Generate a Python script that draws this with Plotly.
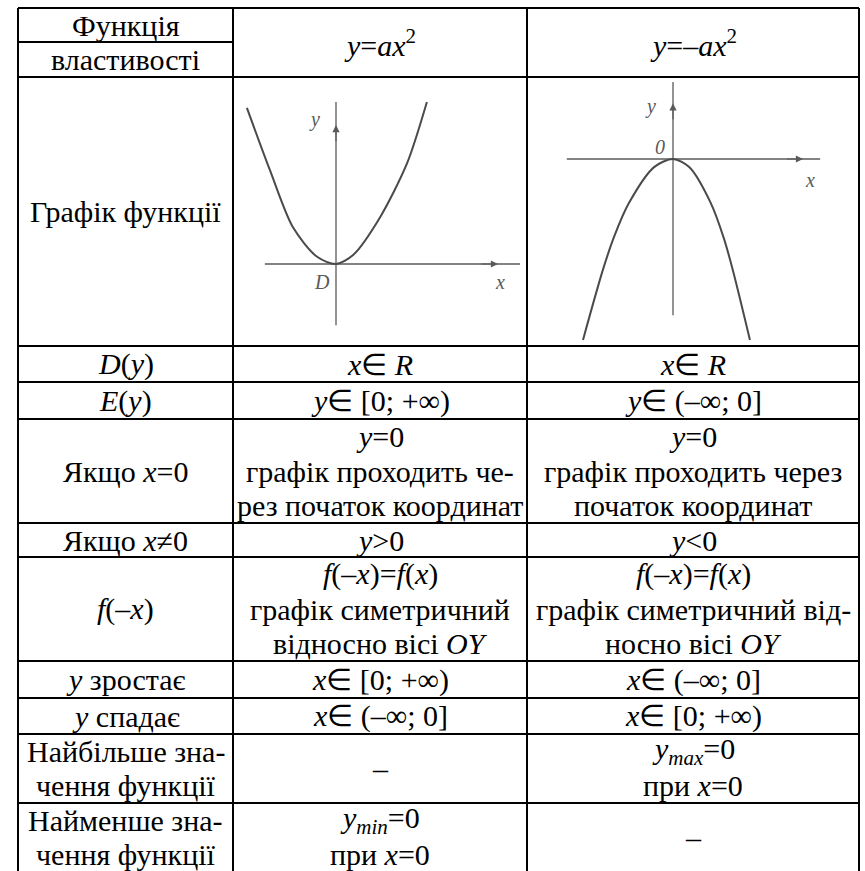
import plotly.graph_objects as go

W, H = 865, 871

# table grid (pixels)
col_edges = [18, 233, 527, 859]
row_edges = [8, 77, 346, 382, 419, 523, 557, 661, 698, 734, 803, 872]
header_split = 42

# cell texts, one list of lines per cell
header_col1 = ["Функція", "властивості"]
header_funcs = ["<i>y</i>=<i>ax</i><sup>2</sup>", "<i>y</i>=–<i>ax</i><sup>2</sup>"]

row_names = [
    ["Графік функції"],
    ["<i>D</i>(<i>y</i>)"],
    ["<i>E</i>(<i>y</i>)"],
    ["Якщо <i>x</i>=0"],
    ["Якщо <i>x</i>≠0"],
    ["<i>f</i>(–<i>x</i>)"],
    ["<i>y</i> зростає"],
    ["<i>y</i> спадає"],
    ["Найбільше зна-", "чення функції"],
    ["Найменше зна-", "чення функції"],
]
col_pos = [
    None,
    ["<i>x</i>∈ <i>R</i>"],
    ["<i>y</i>∈ [0; +∞)"],
    ["<i>y</i>=0", "графік проходить че-", "рез початок координат"],
    ["<i>y</i>>0"],
    ["<i>f</i>(–<i>x</i>)=<i>f</i>(<i>x</i>)", "графік симетричний", "відносно вісі <i>OY</i>"],
    ["<i>x</i>∈ [0; +∞)"],
    ["<i>x</i>∈ (–∞; 0]"],
    ["–"],
    ["<i>y<sub>min</sub></i>=0", "при <i>x</i>=0"],
]
col_neg = [
    None,
    ["<i>x</i>∈ <i>R</i>"],
    ["<i>y</i>∈ (–∞; 0]"],
    ["<i>y</i>=0", "графік проходить через", "початок координат"],
    ["<i>y</i><0"],
    ["<i>f</i>(–<i>x</i>)=<i>f</i>(<i>x</i>)", "графік симетричний від-", "носно вісі <i>OY</i>"],
    ["<i>x</i>∈ (–∞; 0]"],
    ["<i>x</i>∈ [0; +∞)"],
    ["<i>y<sub>max</sub></i>=0", "при <i>x</i>=0"],
    ["–"],
]

# parabola points
up_x = [-1.98, -1.47, -0.96, -0.42, 0, 0.38, 0.98, 1.58, 2.02]
up_y = [3.47, 2.09, 0.82, 0.16, 0, 0.2, 1.04, 2.24, 3.6]
down_x = [-2.0, -1.56, -1.31, -0.98, -0.42, 0, 0.36, 0.84, 1.12, 1.33, 1.71]
down_y = [-4.02, -2.47, -1.73, -0.98, -0.18, 0, -0.18, -0.98, -1.73, -2.47, -4.02]

# axis extents of the sketches
up_axis_x = [-1.58, 4.09]
up_axis_y = [-1.36, 3.6]
down_axis_x = [-2.36, 3.27]
down_axis_y = [-3.47, 1.71]

FONT = "Liberation Serif"
LH = 34.7
SCALE = 45.0
GRAY = "#5a5a5a"

fig = go.Figure()
fig.add_trace(go.Scatter(x=[0, W], y=[0, H], mode="markers",
                         marker=dict(opacity=0), hoverinfo="skip", showlegend=False))

# grid lines
line = dict(color="black", width=2)
for xv in col_edges:
    fig.add_shape(type="line", x0=xv, x1=xv, y0=row_edges[0], y1=row_edges[-1], line=line)
for yv in row_edges:
    fig.add_shape(type="line", x0=col_edges[0], x1=col_edges[-1], y0=yv, y1=yv, line=line)
fig.add_shape(type="line", x0=col_edges[0], x1=col_edges[1], y0=header_split, y1=header_split, line=line)


def put(text, x, y, size=30):
    fig.add_annotation(x=x, y=y, xref="x", yref="y", text=text, showarrow=False,
                       xanchor="center", yanchor="middle",
                       font=dict(family=FONT, size=size, color="black"))


def put_lines(lines, c, r):
    if not lines:
        return
    top, bot = row_edges[r], row_edges[r + 1]
    cx = (col_edges[c] + col_edges[c + 1]) / 2
    start = top + (bot - top - len(lines) * LH) / 2
    for i, t in enumerate(lines):
        put(t, cx, start + LH * (i + 0.5))


# header
put(header_col1[0], (col_edges[0] + col_edges[1]) / 2, (row_edges[0] + header_split) / 2)
put(header_col1[1], (col_edges[0] + col_edges[1]) / 2, (header_split + row_edges[1]) / 2)
for c, t in enumerate(header_funcs):
    put(t, (col_edges[c + 1] + col_edges[c + 2]) / 2, (row_edges[0] + row_edges[1]) / 2)

for r in range(len(row_names)):
    put_lines(row_names[r], 0, r + 1)
    put_lines(col_pos[r], 1, r + 1)
    put_lines(col_neg[r], 2, r + 1)


# sketch subplots: origin pixel positions inside the graph cells
def sketch_axes(c, ox, oy):
    x0, x1 = col_edges[c], col_edges[c + 1]
    y0, y1 = row_edges[1], row_edges[2]
    xr = [(x0 - ox) / SCALE, (x1 - ox) / SCALE]
    yr = [(oy - y1) / SCALE, (oy - y0) / SCALE]
    dom_x = [x0 / W, x1 / W]
    dom_y = [1 - y1 / H, 1 - y0 / H]
    return xr, yr, dom_x, dom_y


xr2, yr2, dx2, dy2 = sketch_axes(1, 336, 264)
xr3, yr3, dx3, dy3 = sketch_axes(2, 673, 159)

for ax, ay, cx, cy, axx, axy in [
    ("x2", "y2", up_x, up_y, up_axis_x, up_axis_y),
    ("x3", "y3", down_x, down_y, down_axis_x, down_axis_y),
]:
    fig.add_trace(go.Scatter(x=axx, y=[0, 0], xaxis=ax, yaxis=ay, mode="lines",
                             line=dict(color=GRAY, width=1.3), showlegend=False, hoverinfo="skip"))
    fig.add_trace(go.Scatter(x=[0, 0], y=axy, xaxis=ax, yaxis=ay, mode="lines",
                             line=dict(color=GRAY, width=1.3), showlegend=False, hoverinfo="skip"))
    fig.add_trace(go.Scatter(x=cx, y=cy, xaxis=ax, yaxis=ay, mode="lines",
                             line=dict(color="#4a4a4a", width=2, shape="spline", smoothing=0.8),
                             showlegend=False, hoverinfo="skip"))

# arrowheads
for ax, ay, x, y, tx, ty in [
    ("x2", "y2", 3.6, 0, 3.2, 0),
    ("x2", "y2", 0, 3.09, 0, 2.7),
    ("x3", "y3", 2.89, 0, 2.5, 0),
    ("x3", "y3", 0, 1.24, 0, 0.85),
]:
    fig.add_annotation(x=x, y=y, ax=tx, ay=ty, xref=ax, yref=ay, axref=ax, ayref=ay, text="",
                       showarrow=True, arrowhead=2, arrowsize=1.2, arrowwidth=1.2, arrowcolor=GRAY,
                       font=dict(family=FONT, size=10))

# sketch labels
for ax, ay, x, y, t in [
    ("x2", "y2", -0.47, 3.2, "y"), ("x2", "y2", -0.31, -0.4, "D"), ("x2", "y2", 3.64, -0.4, "x"),
    ("x3", "y3", -0.51, 1.16, "y"), ("x3", "y3", -0.29, 0.27, "0"), ("x3", "y3", 3.04, -0.47, "x"),
]:
    fig.add_annotation(x=x, y=y, xref=ax, yref=ay, text="<i>" + t + "</i>", showarrow=False,
                       font=dict(family=FONT, size=20, color=GRAY))

hidden = dict(visible=False, showgrid=False, zeroline=False, fixedrange=True)
fig.update_layout(
    width=W, height=H, margin=dict(l=0, r=0, t=0, b=0),
    paper_bgcolor="white", plot_bgcolor="rgba(0,0,0,0)",
    font=dict(family=FONT),
    xaxis=dict(range=[0, W], domain=[0, 1], **hidden),
    yaxis=dict(range=[H, 0], domain=[0, 1], **hidden),
    xaxis2=dict(range=xr2, domain=dx2, anchor="y2", **hidden),
    yaxis2=dict(range=yr2, domain=dy2, anchor="x2", **hidden),
    xaxis3=dict(range=xr3, domain=dx3, anchor="y3", **hidden),
    yaxis3=dict(range=yr3, domain=dy3, anchor="x3", **hidden),
    showlegend=False,
)

# drop the browser's default body margin so the figure sits at the page corner
fig.write_html("out.html", post_script="document.body.style.margin='0px';",
               config=dict(displayModeBar=False))
